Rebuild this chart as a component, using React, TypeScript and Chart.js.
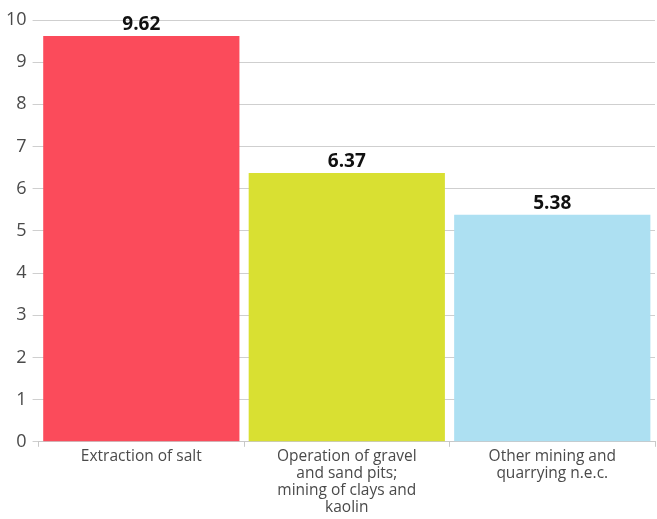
import React, { useEffect, useRef } from "react";
import { Chart, registerables } from "chart.js";

Chart.register(...registerables);

const categories: string[][] = [
  ["Extraction of salt"],
  ["Operation of gravel", "and sand pits;", "mining of clays and", "kaolin"],
  ["Other mining and", "quarrying n.e.c."],
];
const values: number[] = [9.62, 6.37, 5.38];
const barColors: string[] = ["#fb4b5b", "#d9e032", "#ade0f2"];
const yTicks: number[] = [0, 1, 2, 3, 4, 5, 6, 7, 8, 9, 10];

const FONT = "'Open Sans', 'Noto Sans', sans-serif";

const valueLabels = {
  id: "valueLabels",
  afterDatasetsDraw(chart: any) {
    const ctx = chart.ctx;
    const meta = chart.getDatasetMeta(0);
    ctx.save();
    ctx.font = `bold 19px ${FONT}`;
    ctx.fillStyle = "#111";
    ctx.textAlign = "center";
    ctx.textBaseline = "bottom";
    meta.data.forEach((bar: any, i: number) => {
      ctx.fillText(values[i].toFixed(2), bar.x, bar.y - 2);
    });
    ctx.restore();
  },
};

export default function App() {
  const ref = useRef<HTMLCanvasElement>(null);
  useEffect(() => {
    document.body.style.margin = "0";
    const chart = new Chart(ref.current!, {
      type: "bar",
      data: {
        labels: categories,
        datasets: [
          {
            data: values,
            backgroundColor: barColors,
            borderWidth: 0,
            barPercentage: 0.955,
            categoryPercentage: 1,
          },
        ],
      },
      options: {
        animation: false,
        responsive: true,
        maintainAspectRatio: false,
        layout: { padding: { top: 20, right: 2, left: 0, bottom: 2 } },
        plugins: {
          legend: { display: false },
          tooltip: { enabled: false },
        },
        scales: {
          x: {
            grid: {
              display: true,
              drawOnChartArea: false,
              drawTicks: true,
              tickLength: 5,
              color: "#c8c8c8",
              offset: true,
            },
            border: { display: true, color: "#c8c8c8", width: 1 },
            ticks: {
              color: "#4a4a4a",
              font: { family: FONT, size: 15.5, lineHeight: 1.1 },
              padding: 1,
              maxRotation: 0,
              autoSkip: false,
            },
          },
          y: {
            min: 0,
            max: 10,
            afterBuildTicks: (axis: any) => {
              axis.ticks = yTicks.map((v) => ({ value: v }));
            },
            grid: {
              color: "#cfcfcf",
              tickLength: 6,
              lineWidth: 1,
            },
            border: { display: false },
            ticks: {
              color: "#4a4a4a",
              font: { family: FONT, size: 18 },
              padding: 6,
            },
          },
        },
      },
      plugins: [valueLabels],
    });
    return () => chart.destroy();
  }, []);
  return (
    <div style={{ position: "fixed", left: 0, top: 0, width: 657, height: 519 }}>
      <canvas ref={ref} />
    </div>
  );
}
